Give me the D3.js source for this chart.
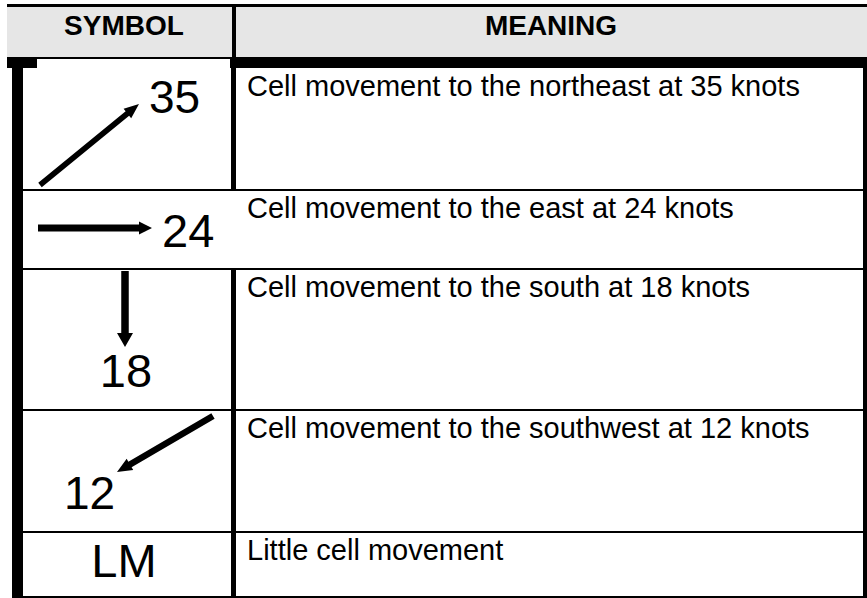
<!DOCTYPE html>
<html>
<head>
<meta charset="utf-8">
<script src="https://cdn.jsdelivr.net/npm/d3@7/dist/d3.min.js"></script>
<style>
  html, body { margin: 0; padding: 0; background: #fff; }
  svg { display: block; }
  text { font-family: "Liberation Sans", Arial, sans-serif; fill: #000; }
</style>
</head>
<body>
<svg id="chart" width="867" height="598"></svg>
<script>
// ---- data ----
const headers = ["SYMBOL", "MEANING"];
const symbolLabels = ["35", "24", "18", "12", "LM"];
const directions = ["northeast", "east", "south", "southwest", null];
const speeds = [35, 24, 18, 12, null];
const meanings = [
  "Cell movement to the northeast at 35 knots",
  "Cell movement to the east at 24 knots",
  "Cell movement to the south at 18 knots",
  "Cell movement to the southwest at 12 knots",
  "Little cell movement"
];

// ---- layout (positions only) ----
const W = 867, H = 598;
const rowEdges = [68, 190, 269, 410, 532, 597];
const rowScale = d3.scaleOrdinal().domain(d3.range(meanings.length)).range(rowEdges.slice(0, -1));
const colX = { left: 12, leftIn: 23, div: 231, divW: 5, right: 863, textX: 247 };

// arrow geometry per direction: tail, tip, shaft width, head length, head half-width
const arrowGeom = {
  northeast: { x1: 40, y1: 185, x2: 139, y2: 104, w: 5.5, hl: 15, hw: 6 },
  east:      { x1: 38, y1: 228, x2: 152, y2: 228, w: 7,   hl: 13, hw: 6.5 },
  south:     { x1: 125, y1: 271, x2: 125, y2: 347, w: 7.5, hl: 14, hw: 8 },
  southwest: { x1: 213, y1: 416, x2: 117, y2: 472, w: 6.5, hl: 15, hw: 6.5 }
};
// label anchor per row (symbol column)
const labelPos = [
  { x: 149, y: 113, anchor: "start", size: 46 },
  { x: 162, y: 247, anchor: "start", size: 47 },
  { x: 126, y: 387, anchor: "middle", size: 47 },
  { x: 64,  y: 509, anchor: "start", size: 46 },
  { x: 124, y: 577, anchor: "middle", size: 47 }
];

const svg = d3.select("#chart");

// header
svg.append("rect").attr("x", 7).attr("y", 4).attr("width", W - 7).attr("height", 3).attr("fill", "#000");
svg.append("rect").attr("x", 7).attr("y", 7).attr("width", W - 7).attr("height", 50).attr("fill", "#e6e6e6");
svg.append("rect").attr("x", 232).attr("y", 7).attr("width", 4).attr("height", 50).attr("fill", "#000");
svg.append("rect").attr("x", 7).attr("y", 57).attr("width", W - 7).attr("height", 11).attr("fill", "#000");

svg.selectAll("text.hdr").data(headers).enter().append("text")
  .attr("class", "hdr")
  .attr("x", (d, i) => i === 0 ? 124 : 551)
  .attr("y", 35)
  .attr("text-anchor", "middle")
  .attr("font-weight", "bold")
  .attr("font-size", 28)
  .text(d => d);

// body borders
svg.append("rect").attr("x", colX.left).attr("y", 68).attr("width", colX.leftIn - colX.left).attr("height", H - 68).attr("fill", "#000");
svg.append("rect").attr("x", colX.right).attr("y", 68).attr("width", W - colX.right).attr("height", H - 68).attr("fill", "#000");
svg.append("rect").attr("x", colX.div).attr("y", 68).attr("width", colX.divW).attr("height", H - 68).attr("fill", "#000");

// row lines
svg.selectAll("rect.rowline").data(rowEdges.slice(1)).enter().append("rect")
  .attr("class", "rowline")
  .attr("x", colX.leftIn).attr("y", d => d - 1)
  .attr("width", colX.right - colX.leftIn).attr("height", 2)
  .attr("fill", "#000");

// symbol image backgrounds (white, they overlap lines as in the source)
const imgBoxes = [
  { x: 37, y: 59, w: 193, h: 130 },
  { x: 37, y: 191, w: 200, h: 77 },
  { x: 78, y: 270, w: 104, h: 139 }
];
svg.selectAll("rect.img").data(imgBoxes).enter().append("rect")
  .attr("class", "img")
  .attr("x", d => d.x).attr("y", d => d.y).attr("width", d => d.w).attr("height", d => d.h)
  .attr("fill", "#fff");

// arrows
function arrowPath(g) {
  const dx = g.x2 - g.x1, dy = g.y2 - g.y1;
  const L = Math.hypot(dx, dy);
  const ux = dx / L, uy = dy / L, nx = -uy, ny = ux;
  const bx = g.x2 - ux * g.hl, by = g.y2 - uy * g.hl;
  const p = d3.path();
  const h = g.w / 2;
  p.moveTo(g.x1 + nx * h, g.y1 + ny * h);
  p.lineTo(bx + nx * h, by + ny * h);
  p.lineTo(bx + nx * g.hw, by + ny * g.hw);
  p.lineTo(g.x2, g.y2);
  p.lineTo(bx - nx * g.hw, by - ny * g.hw);
  p.lineTo(bx - nx * h, by - ny * h);
  p.lineTo(g.x1 - nx * h, g.y1 - ny * h);
  p.closePath();
  return p.toString();
}
svg.selectAll("path.arrow").data(directions.filter(d => d)).enter().append("path")
  .attr("class", "arrow")
  .attr("d", d => arrowPath(arrowGeom[d]))
  .attr("fill", "#000");

// symbol labels
svg.selectAll("text.sym").data(symbolLabels).enter().append("text")
  .attr("class", "sym")
  .attr("x", (d, i) => labelPos[i].x)
  .attr("y", (d, i) => labelPos[i].y)
  .attr("text-anchor", (d, i) => labelPos[i].anchor)
  .attr("font-size", (d, i) => labelPos[i].size)
  .text(d => d);

// meanings
svg.selectAll("text.mean").data(meanings).enter().append("text")
  .attr("class", "mean")
  .attr("x", colX.textX)
  .attr("y", (d, i) => rowScale(i) + 28)
  .attr("font-size", 29)
  .text(d => d);
</script>
</body>
</html>
